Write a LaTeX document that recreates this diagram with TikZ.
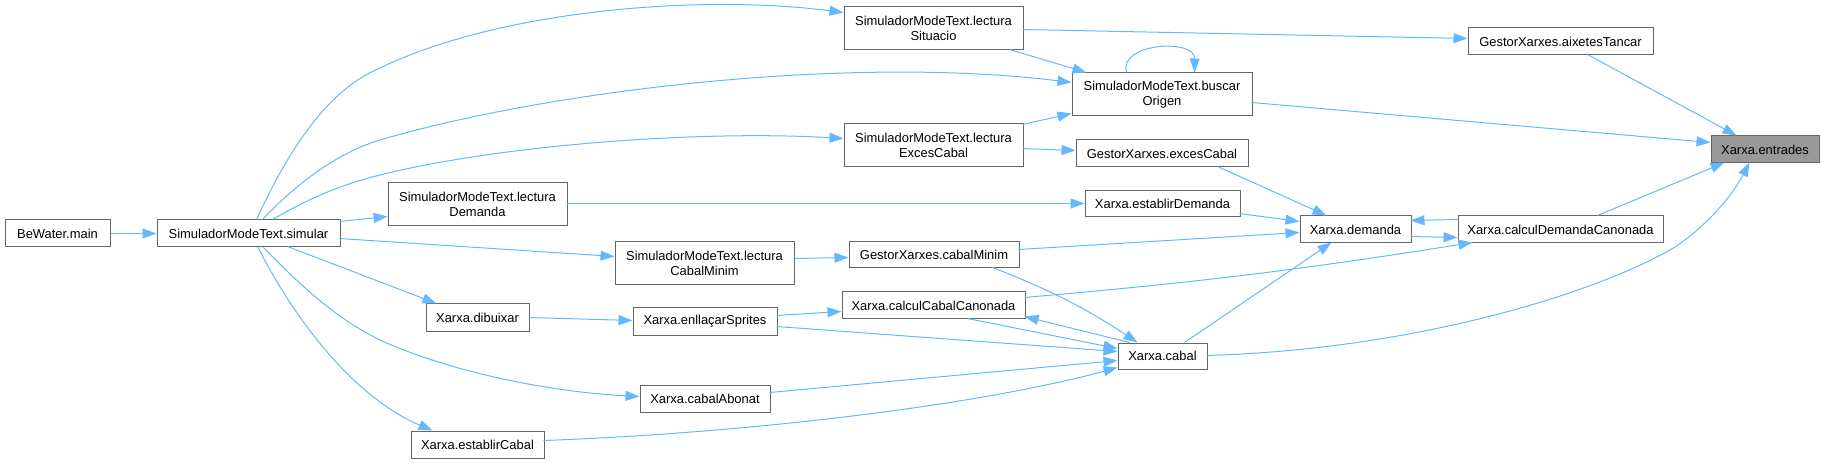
\documentclass[tikz,border=0pt]{standalone}
\usepackage{fontspec}
\setmainfont{Liberation Sans}
\usetikzlibrary{arrows.meta,calc}
\definecolor{edgeblue}{HTML}{63B8FF}
\definecolor{boxgray}{HTML}{666666}
\definecolor{hlgray}{HTML}{999999}
\tikzset{
  box/.style={draw=boxgray, fill=white, line width=0.75pt, inner sep=0pt,
    font=\fontsize{9.7}{11.6}\selectfont, align=center, text=black},
  conn/.style={draw=edgeblue, line width=0.75pt, -{Triangle[length=10.5pt,width=7.5pt]}},
}
\newcommand\gnode[7][]{%
  \pgfmathsetmacro\gcx{(#3+#5)/2}%
  \pgfmathsetmacro\gcy{(#4+#6)/2}%
  \pgfmathsetmacro\gw{(#5-#3)*0.75}%
  \pgfmathsetmacro\gh{(#6-#4)*0.75}%
  \node[box,minimum width=\gw pt,minimum height=\gh pt,#1] (#2) at (\gcx,\gcy) {#7};}
\begin{document}
\begin{tikzpicture}[x=0.75pt,y=-0.75pt]
\useasboundingbox (0,0) rectangle (1824,463);
% nodes
\gnode{main}{5}{220}{110}{247}{BeWater.main}
\gnode{simular}{157}{220}{340}{247}{SimuladorModeText.simular}
\gnode{lDem}{388}{183}{567}{226}{SimuladorModeText.lectura\\Demanda}
\gnode{dib}{426}{304}{529}{331}{Xarxa.dibuixar}
\gnode{estC}{411}{431}{544}{458}{Xarxa.establirCabal}
\gnode{lSit}{844}{7}{1023}{50}{SimuladorModeText.lectura\\Situacio}
\gnode{lExc}{844}{124}{1023}{167}{SimuladorModeText.lectura\\ExcesCabal}
\gnode{lCM}{615}{242}{794}{285}{SimuladorModeText.lectura\\CabalMinim}
\gnode{enl}{633}{308}{777}{335}{Xarxa.enllaçarSprites}
\gnode{cAb}{640}{385}{770}{412}{Xarxa.cabalAbonat}
\gnode{gCM}{849}{242}{1019}{268}{GestorXarxes.cabalMinim}
\gnode{cCC}{842}{292}{1025}{319}{Xarxa.calculCabalCanonada}
\gnode{bus}{1072}{73}{1252}{116}{SimuladorModeText.buscar\\Origen}
\gnode{exc}{1076}{140}{1248}{167}{GestorXarxes.excesCabal}
\gnode{estD}{1085}{191}{1240}{217}{Xarxa.establirDemanda}
\gnode{dem}{1300}{216}{1411}{243}{Xarxa.demanda}
\gnode{cab}{1118}{343}{1207}{369}{Xarxa.cabal}
\gnode{aix}{1468}{28}{1653}{55}{GestorXarxes.aixetesTancar}
\gnode[fill=hlgray]{ent}{1711}{136}{1819}{163}{Xarxa.entrades}
\gnode{cDC}{1458}{216}{1663}{243}{Xarxa.calculDemandaCanonada}
% connectors
\draw[conn] (main.east) -- (simular.west);
\draw[conn] ($(simular.north west)+(100,0)$) .. controls (300,125) and (340,85) .. (380,68)
   .. controls (500,10) and (700,-6) .. ($(lSit.north west)+(0,6)$);
\draw[conn] ($(simular.north west)+(106,0)$) .. controls (300,180) and (340,152) .. (380,140)
   .. controls (550,90) and (850,55) .. ($(bus.north west)+(0,10)$);
\draw[conn] ($(simular.north west)+(116,0)$) .. controls (310,198) and (340,185) .. (380,175)
   .. controls (500,145) and (700,130) .. ($(lExc.north west)+(0,15)$);
\draw[conn] ($(simular.north west)+(183,2)$) -- ($(lDem.north west)+(0,34)$);
\draw[conn] ($(simular.north west)+(183,19)$) -- ($(lCM.north west)+(0,15)$);
\draw[conn] ($(simular.north west)+(131,27)$) -- ($(dib.north west)+(11,0)$);
\draw[conn] ($(simular.north west)+(106,27)$) .. controls (300,285) and (335,318) .. (380,340)
   .. controls (450,372) and (550,392) .. ($(cAb.north west)+(0,12)$);
\draw[conn] ($(simular.north west)+(101,27)$) .. controls (300,330) and (360,400) .. ($(estC.north west)+(22,0)$);
\draw[conn] ($(lSit.north west)+(179,23)$) -- ($(aix.north west)+(0,11)$);
\draw[conn] ($(lSit.north west)+(166,43)$) -- ($(bus.north west)+(15,0)$);
\draw[conn] ($(bus.north west)+(55,0)$) .. controls (1118,43) and (1195,38) .. ($(bus.north west)+(123,0)$);
\draw[conn] ($(bus.north west)+(180,30)$) -- ($(ent.north west)+(0,7)$);
\draw[conn] ($(lExc.north west)+(179,1)$) -- ($(bus.north west)+(0,41)$);
\draw[conn] ($(lExc.north west)+(179,25)$) -- ($(exc.north west)+(0,11)$);
\draw[conn] ($(exc.north west)+(142,27)$) -- ($(dem.north west)+(27,0)$);
\draw[conn] ($(lDem.north west)+(179,21)$) -- ($(estD.north west)+(0,13)$);
\draw[conn] ($(estD.north west)+(155,23)$) -- ($(dem.north west)+(0,6)$);
\draw[conn] ($(lCM.north west)+(179,17)$) -- ($(gCM.north west)+(0,16)$);
\draw[conn] ($(gCM.north west)+(170,8)$) -- ($(dem.north west)+(0,17)$);
\draw[conn] ($(gCM.north west)+(144,26)$) to[bend left=6] ($(cab.north west)+(20,0)$);
\draw[conn] ($(dib.north west)+(103,14)$) -- ($(enl.north west)+(0,13)$);
\draw[conn] ($(enl.north west)+(144,8)$) -- ($(cCC.north west)+(0,20)$);
\draw[conn] ($(enl.north west)+(144,19)$) -- ($(cab.north west)+(0,9)$);
\draw[conn] ($(cCC.north west)+(126,27)$) -- ($(cab.north west)+(0,6)$);
\draw[conn] ($(cab.north west)+(12,0)$) -- ($(cCC.north west)+(183,25)$);
\draw[conn] ($(cCC.north west)+(183,6)$) to[bend right=2] ($(cDC.north west)+(15,27)$);
\draw[conn] ($(cAb.north west)+(130,8)$) -- ($(cab.north west)+(0,18)$);
\draw[conn] ($(estC.north west)+(133,10)$) .. controls (750,433) and (980,405) .. ($(cab.north west)+(0,25)$);
\draw[conn] ($(cab.north west)+(67,0)$) -- ($(dem.north west)+(32,27)$);
\draw[conn] ($(cab.north west)+(89,13)$) .. controls (1400,350) and (1580,300) .. (1670,250)
   .. controls (1700,232) and (1730,200) .. ($(ent.north west)+(39,27)$);
\draw[conn] ($(dem.north west)+(111,21)$) -- ($(cDC.north west)+(0,22)$);
\draw[conn] ($(cDC.north west)+(0,4)$) -- ($(dem.north west)+(111,5)$);
\draw[conn] ($(cDC.north west)+(140,0)$) -- ($(ent.north west)+(14,27)$);
\draw[conn] ($(aix.north west)+(120,27)$) -- ($(ent.north west)+(26,0)$);
\end{tikzpicture}
\end{document}
